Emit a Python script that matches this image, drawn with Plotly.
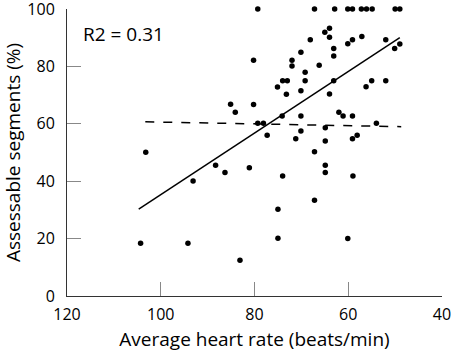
import plotly.graph_objects as go

heart_rate = [79.3, 67.2, 62.9, 60.1, 59.1, 57.2, 56.1, 54.9, 50.0, 49.0,
              64.0, 65.0, 64.0, 68.1, 59.1, 60.1, 57.1, 52.0, 50.1, 49.0,
              70.1, 63.1, 63.1, 80.2, 72.0, 72.0, 66.2, 69.2, 74.0, 73.0,
              69.2, 63.1, 75.1, 70.1, 73.2, 64.0, 56.2, 55.0, 52.0, 80.2,
              74.1, 70.1, 62.0, 61.1, 59.1, 79.3, 78.1, 77.3, 54.0, 64.9,
              70.1, 71.2, 64.9, 58.1, 59.1, 67.2, 85.1, 84.1, 103.2, 88.3,
              86.3, 81.1, 93.1, 104.3, 94.2, 83.1, 64.9, 64.9, 74.0, 59.0,
              67.2, 75.0, 75.0, 60.1]
segments = [100, 100, 100, 100, 100, 100, 100, 100, 100, 100,
            93.3, 91.9, 90.2, 89.3, 89.3, 87.9, 90.4, 89.3, 86.2, 87.8,
            84.9, 86.2, 83.6, 82.1, 82.1, 80.1, 80.4, 78.0, 75.0, 75.0,
            75.0, 75.0, 72.8, 71.5, 70.3, 70.4, 72.9, 75.0, 75.0, 66.7,
            62.7, 62.7, 64.0, 62.7, 62.7, 60.2, 60.2, 56.0, 60.2, 58.6,
            57.5, 54.8, 54.0, 56.0, 54.8, 50.3, 66.8, 64.0, 50.1, 45.6,
            43.0, 44.7, 40.1, 18.4, 18.4, 12.5, 45.6, 43.0, 41.8, 41.8,
            33.4, 30.2, 20.1, 20.0]

fit_x = [104.7, 49.0]
fit_y = [30.3, 90.0]
flat_x = [103.3, 48.7]
flat_y = [60.7, 59.0]

x_ticks = [120, 100, 80, 60, 40]
y_ticks = [0, 20, 40, 60, 80, 100]
r2_label = "R2 = 0.31"

FONT = "Open Sans"

fig = go.Figure()
fig.add_trace(go.Scatter(x=heart_rate, y=segments, mode="markers", cliponaxis=False,
                         marker=dict(color="black", size=5.5), showlegend=False))
fig.add_trace(go.Scatter(x=fit_x, y=fit_y, mode="lines",
                         line=dict(color="black", width=1.5), showlegend=False))
fig.add_trace(go.Scatter(x=flat_x, y=flat_y, mode="lines",
                         line=dict(color="black", width=1.5, dash="dash"), showlegend=False))

fig.add_annotation(x=(82 - 67) / 375, y=0.913, xref="paper", yref="paper", text=r2_label,
                   showarrow=False, xanchor="left", yanchor="middle", borderpad=0,
                   font=dict(family=FONT, size=19, color="black"))

fig.update_layout(
    width=452, height=352,
    margin=dict(l=67, r=10, t=9, b=56),
    paper_bgcolor="white", plot_bgcolor="white",
    font=dict(family=FONT, size=16, color="black"),
)
fig.update_xaxes(range=[120, 40], tickvals=x_ticks, ticks="inside", ticklen=14,
                 tickcolor="#888", showline=True, linecolor="#333", linewidth=1,
                 showgrid=False, zeroline=False, automargin=False,
                 ticklabeloverflow="allow", ticklabelstandoff=4,
                 title=dict(text="Average heart rate (beats/min)", standoff=8),
                 tickfont=dict(size=16))
fig.update_yaxes(range=[0, 100], tickvals=y_ticks, ticks="inside", ticklen=14,
                 tickcolor="#888", showline=True, linecolor="#333", linewidth=1,
                 showgrid=False, zeroline=False, automargin=False,
                 ticklabeloverflow="allow", ticklabelstandoff=8,
                 title=dict(text="Assessable segments (%)", standoff=8),
                 tickfont=dict(size=16))

fig.write_html("out.html", config={"displayModeBar": False},
               post_script="document.body.style.margin='0';")
